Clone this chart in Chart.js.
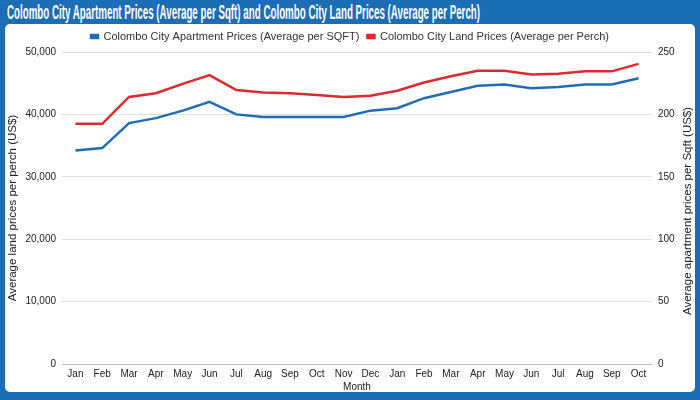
<!DOCTYPE html>
<html>
<head>
<meta charset="utf-8">
<script src="https://cdn.jsdelivr.net/npm/chart.js@4/dist/chart.umd.min.js"></script>
<style>
html,body{margin:0;padding:0;background:#fff;}
#frame{position:absolute;left:0;top:0;width:700px;height:400px;background:#1b6db6;}
#title{position:absolute;left:7px;top:1px;height:22px;line-height:22px;color:#fff;font-family:"Liberation Sans Narrow","Liberation Sans",Arial,sans-serif;font-weight:bold;font-size:20px;white-space:nowrap;transform-origin:0 50%;}
#inner{position:absolute;left:5px;top:24px;width:690px;height:368px;background:#fff;border-radius:5px;}
#wrap{position:absolute;left:0;top:0;width:700px;height:400px;}
</style>
</head>
<body>
<div id="frame"><div id="title">Colombo City Apartment Prices (Average per Sqft) and Colombo City Land Prices (Average per Perch)</div><div id="inner"></div></div>
<div id="wrap"><canvas id="c" width="700" height="400"></canvas></div>
<script>
const months = ["Jan","Feb","Mar","Apr","May","Jun","Jul","Aug","Sep","Oct","Nov","Dec","Jan","Feb","Mar","Apr","May","Jun","Jul","Aug","Sep","Oct"];
const apartmentPrices = [171,173,193,197,203,210,200,198,198,198,198,203,205,213,218,223,224,221,222,224,224,229];
const landPrices = [38500,38500,42800,43400,44900,46300,43900,43500,43400,43100,42800,43000,43800,45100,46100,47000,47000,46400,46500,46900,46900,48100];
const apartmentLabel = "Colombo City Apartment Prices (Average per SQFT)";
const landLabel = "Colombo City Land Prices (Average per Perch)";
const leftTitle = "Average land prices per perch (US$)";
const rightTitle = "Average apartment prices per Sqft (US$)";

// fit title width
const t = document.getElementById('title');
const tw = t.scrollWidth;
if (tw > 0) t.style.transform = 'scaleX(' + (473 / tw) + ')';

const FONT = "'Liberation Sans', Arial, sans-serif";
const tickFont = {family: FONT, size: 10};

const rightTitlePlugin = {
  id: 'rightTitle',
  afterDraw(chart) {
    const ctx = chart.ctx;
    const a = chart.chartArea;
    ctx.save();
    ctx.translate(688, (a.top + a.bottom) / 2 + 3);
    ctx.rotate(-Math.PI / 2);
    ctx.font = "11.5px " + FONT;
    ctx.fillStyle = '#222';
    ctx.textAlign = 'center';
    ctx.textBaseline = 'middle';
    ctx.fillText(rightTitle, 0, 0);
    ctx.restore();
  }
};

new Chart(document.getElementById('c'), {
  type: 'line',
  data: {
    labels: months,
    datasets: [
      {label: apartmentLabel, data: apartmentPrices, yAxisID: 'yR', borderColor: '#1f6db5', backgroundColor: '#1f6db5', borderWidth: 2.5, pointRadius: 0, tension: 0},
      {label: landLabel, data: landPrices, yAxisID: 'yL', borderColor: '#dc2a2e', backgroundColor: '#dc2a2e', borderWidth: 2.5, pointRadius: 0, tension: 0}
    ]
  },
  options: {
    responsive: false,
    animation: false,
    layout: {padding: {top: 23, bottom: 7, left: 6, right: 6}},
    plugins: {
      legend: {
        position: 'top',
        labels: {boxWidth: 7, boxHeight: 3, padding: 8, color: '#333', font: {family: FONT, size: 11}}
      },
      tooltip: {enabled: false}
    },
    scales: {
      x: {
        offset: true,
        grid: {display: false, drawTicks: false},
        border: {display: false},
        ticks: {color: '#222', font: tickFont, maxRotation: 0, autoSkip: false, padding: 4},
        title: {display: true, text: 'Month', color: '#222', font: tickFont, padding: {top: -3, bottom: 0}}
      },
      yL: {
        position: 'left',
        min: 0, max: 50000,
        ticks: {stepSize: 10000, color: '#222', font: tickFont, padding: 6, callback: v => v.toLocaleString('en-US')},
        grid: {color: function(c){ return c.tick && c.tick.value === 0 ? '#bdbdbd' : '#e0e0e0'; }, drawTicks: false, lineWidth: 1},
        border: {display: false},
        title: {display: true, text: leftTitle, color: '#222', font: {family: FONT, size: 11.5}, padding: 0},
        afterFit: s => { s.width = 56; }
      },
      yR: {
        position: 'right',
        min: 0, max: 250,
        ticks: {stepSize: 50, color: '#222', font: tickFont, padding: 6},
        grid: {display: false, drawTicks: false},
        border: {display: false},
        title: {display: false},
        afterFit: s => { s.width = 42; }
      }
    }
  },
  plugins: [rightTitlePlugin]
});
</script>
</body>
</html>
